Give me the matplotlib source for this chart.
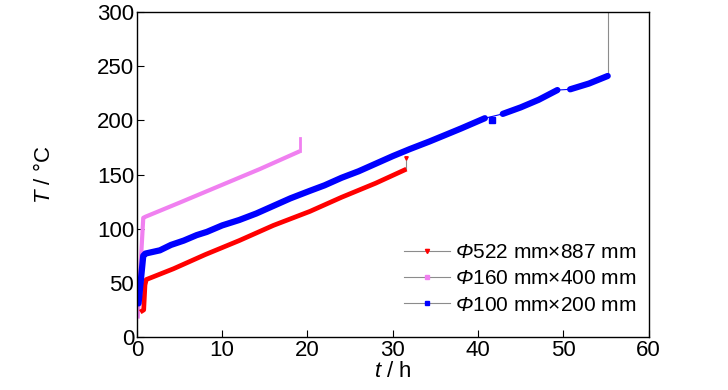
import matplotlib
matplotlib.use("Agg")
import matplotlib.pyplot as plt
from matplotlib import font_manager
from matplotlib.lines import Line2D

# font: narrow sans if available (the original looks like Arial Narrow)
names = {f.name for f in font_manager.fontManager.ttflist}
font = "Liberation Sans Narrow" if "Liberation Sans Narrow" in names else "Liberation Sans"
plt.rcParams["font.family"] = [font, "DejaVu Sans"]
plt.rcParams["mathtext.fontset"] = "custom"
plt.rcParams["mathtext.rm"] = font
plt.rcParams["mathtext.it"] = font + ":italic"
plt.rcParams["mathtext.sf"] = font + ":italic"   # used for the italic Φ

# ---- data ----
red_t = [0.4, 0.8, 0.95, 1.1, 4.3, 8, 12, 16, 20.3, 24, 28, 31.6]
red_T = [23, 25, 48, 53, 63, 76, 89, 103, 116, 129, 142, 155]
red_end_T = [155, 165]          # thin gray tail at the end

pink_t = [0.1, 0.5, 0.75, 1.0, 5, 10, 14.4, 19.1]
pink_T = [17, 75, 110, 111, 124, 140.5, 155, 171.5]
pink_end_T = [171.5, 184]

blue_seg1_t = [0.2, 0.5, 0.75, 1.0, 2.7, 4, 5.5, 7, 8.2, 10, 12, 14, 16, 18,
               20.3, 22, 24, 26, 28, 30, 32, 34.3, 36, 38, 40.8]
blue_seg1_T = [31, 55, 75, 77, 80, 85, 89, 94, 97, 103, 108, 114, 121, 128,
               135, 140, 147, 153, 160, 167, 173.5, 180.5, 186, 192.5, 202]
blue_dot = (41.6, 200)
blue_seg2_t = [42.9, 45, 47.1, 49.3]
blue_seg2_T = [206, 212, 219, 228]
blue_seg3_t = [50.8, 53, 55.2]
blue_seg3_T = [228.7, 234, 241]
blue_end_T = [241, 300]

labels = [r"$\mathsf{Φ}$522 mm×887 mm",
          r"$\mathsf{Φ}$160 mm×400 mm",
          r"$\mathsf{Φ}$100 mm×200 mm"]

red = "#ff0000"
pink = "#f080f0"
blue = "#0000ff"
gray = "#8c8c8c"

fig = plt.figure(figsize=(7.28, 3.90), dpi=100)
ax = fig.add_axes([0.188, 0.136, 0.703, 0.833])

# thin connections / tails
ax.plot([blue_seg1_t[-1], blue_seg2_t[0]], [blue_seg1_T[-1], blue_seg2_T[0]], color=blue, lw=0.8)
ax.plot([blue_seg2_t[-1], blue_seg3_t[0]], [blue_seg2_T[-1], blue_seg3_T[0]], color=blue, lw=0.8)
ax.plot([red_t[-1], red_t[-1]], red_end_T, color=gray, lw=0.8)
ax.plot([red_t[-1]], [red_end_T[-1]], marker="v", color=red, ms=2.5, ls="none")
ax.plot([blue_seg3_t[-1], blue_seg3_t[-1]], blue_end_T, color=gray, lw=0.8)

# thick data bands
ax.plot(pink_t, pink_T, color=pink, lw=3.0, solid_capstyle="butt")
ax.plot([pink_t[-1], pink_t[-1]], pink_end_T, color=pink, lw=2.0)
ax.plot(red_t, red_T, color=red, lw=3.4, solid_capstyle="butt")
ax.plot(blue_seg1_t, blue_seg1_T, color=blue, lw=4.5, solid_capstyle="round")
ax.plot([blue_dot[0]], [blue_dot[1]], marker="s", color=blue, ms=4, ls="none")
ax.plot(blue_seg2_t, blue_seg2_T, color=blue, lw=4.5, solid_capstyle="round")
ax.plot(blue_seg3_t, blue_seg3_T, color=blue, lw=4.5, solid_capstyle="round")

ax.set_xlim(0, 60)
ax.set_ylim(0, 300)
ax.set_xticks(range(0, 61, 10))
ax.set_yticks(range(0, 301, 50))
ax.tick_params(direction="in", length=5, width=0.8, labelsize=16, pad=2)
for s in ax.spines.values():
    s.set_linewidth(1.0)

ax.set_xlabel(r"$\mathit{t}$ / h", fontsize=16, labelpad=0)
ax.set_ylabel(r"$\mathit{T}$ / °C", fontsize=16, labelpad=30)

handles = [
    Line2D([], [], color=gray, lw=0.8, marker="v", ms=3, mfc=red, mec=red),
    Line2D([], [], color=gray, lw=0.8, marker="s", ms=2.5, mfc=pink, mec=pink),
    Line2D([], [], color=gray, lw=0.8, marker="s", ms=3, mfc=blue, mec=blue),
]
ax.legend(handles, labels, loc="lower right", bbox_to_anchor=(1.0, 0.03),
          frameon=False, fontsize=15, handlelength=2.2, handletextpad=0.25,
          labelspacing=0.35, borderaxespad=0.2, markerfirst=True)

fig.savefig("out.png", dpi=100)
